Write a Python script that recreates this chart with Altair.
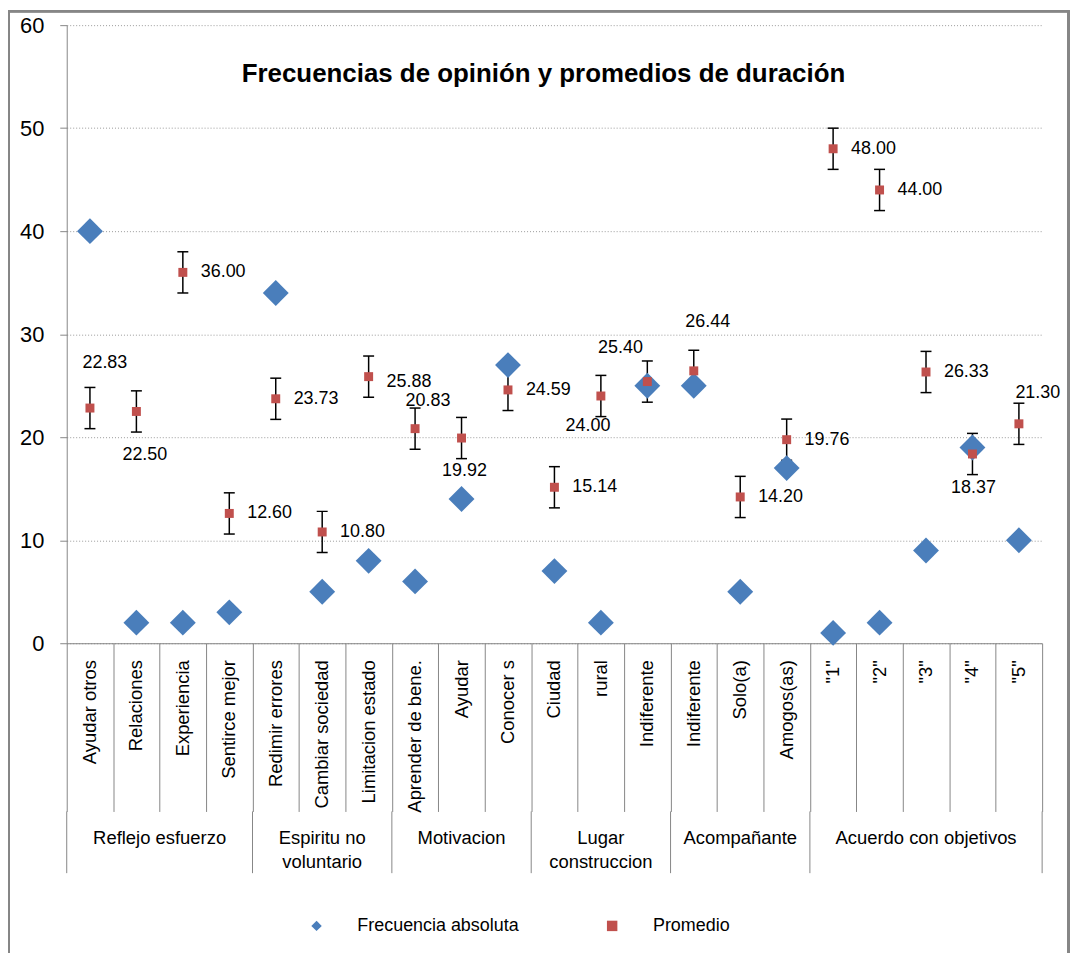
import altair as alt
import pandas as pd

# ---------------- data ----------------
CATEGORIES = ["Ayudar otros", "Relaciones", "Experiencia", "Sentirce mejor",
              "Redimir errores", "Cambiar sociedad", "Limitacion estado",
              "Aprender de bene.", "Ayudar", "Conocer s",
              "Ciudad", "rural", "Indiferente",
              "Indiferente", "Solo(a)", "Amogos(as)",
              '"1"', '"2"', '"3"', '"4"', '"5"']
GROUPS = ["Reflejo esfuerzo", "Espiritu no\nvoluntario", "Motivacion",
          "Lugar\nconstruccion", "Acompañante", "Acuerdo con objetivos"]
GROUP_SIZES = [4, 3, 3, 3, 3, 5]
FRECUENCIA = [40, 2, 2, 3, 34, 5, 8, 6, 14, 27, 7, 2, 25, 25, 5, 17, 1, 2, 9, 19, 10]
PROMEDIO = [22.83, 22.50, 36.00, 12.60, 23.73, 10.80, 25.88, 20.83, 19.92, 24.59,
            15.14, 24.00, 25.40, 26.44, 14.20, 19.76, 48.00, 44.00, 26.33, 18.37, 21.30]
ERROR_MARGIN = 2
SERIES = ["Frecuencia absoluta", "Promedio"]
Y_TICKS = [0, 10, 20, 30, 40, 50, 60]
TITLE = "Frecuencias de opinión y promedios de duración"

# ---------------- style ----------------
BLUE = "#4A7EBB"
RED = "#C0504D"
GRAY = "#868686"
FONT = "Liberation Sans"
W, H = 980, 621
# (align, dx, dy) for each data label of "Promedio"
LABEL_STYLE = [
    ("center", 15, -45), ("center", 8.5, 44), ("left", 18, 0), ("left", 18, 0),
    ("left", 18, 0), ("left", 18, 0), ("left", 18, 5),
    ("center", 13, -28), ("center", 3, 33), ("left", 18, 0),
    ("left", 18, 0), ("center", -13, 30), ("center", -27, -34),
    ("center", 14, -49), ("left", 18, 0), ("left", 18, 0),
    ("left", 18, 0), ("left", 18, 0), ("left", 18, 0), ("center", 1, 34), ("center", 19, -31),
]

n = len(CATEGORIES)
pos = [i + 0.5 for i in range(n)]

df_freq = pd.DataFrame({"pos": pos, "cat": CATEGORIES, "valor": FRECUENCIA,
                        "serie": SERIES[0]})
df_prom = pd.DataFrame({"pos": pos, "cat": CATEGORIES, "valor": PROMEDIO,
                        "serie": SERIES[1], "idx": list(range(n))})
df_prom["lo"] = df_prom["valor"] - ERROR_MARGIN
df_prom["hi"] = df_prom["valor"] + ERROR_MARGIN
df_prom["label"] = [f"{v:.2f}" for v in PROMEDIO]

starts = []
s = 0
for g in GROUP_SIZES:
    starts.append(s)
    s += g
df_groups = pd.DataFrame({"center": [st + g / 2 for st, g in zip(starts, GROUP_SIZES)],
                          "label": GROUPS})
df_bounds = pd.DataFrame({"b": starts + [n]})

# ---------------- scales / axes ----------------
x_scale = alt.Scale(domain=[0, n], nice=False, zero=False)
y_scale = alt.Scale(domain=[0, 60], nice=False)
x_axis = alt.Axis(values=list(range(n + 1)), labels=False, title=None, grid=False,
                  domainColor=GRAY, domainWidth=1, tickColor=GRAY, tickWidth=1,
                  tickSize=169)
y_axis = alt.Axis(values=Y_TICKS, title=None, grid=True, gridColor="#9a9a9a",
                  gridDash=[1, 2], gridWidth=1, domainColor=GRAY, domainWidth=1,
                  tickColor=GRAY, tickSize=7, labelFontSize=22, labelColor="#000",
                  labelPadding=16, labelFont=FONT)


def X(field):
    return alt.X(field, scale=x_scale, axis=x_axis)


def Y(field):
    return alt.Y(field, scale=y_scale, axis=y_axis)


legend = alt.Legend(title=None, orient="none", legendX=242, legendY=896,
                    direction="horizontal", symbolSize=110, labelFontSize=18,
                    labelFont=FONT, labelColor="#000", labelOffset=32, labelLimit=400,
                    columnPadding=84, padding=0, symbolStrokeWidth=0)
color = alt.Color("serie:N", scale=alt.Scale(domain=SERIES, range=[BLUE, RED]), legend=legend)
shape = alt.Shape("serie:N", scale=alt.Scale(domain=SERIES, range=["diamond", "square"]),
                  legend=legend)

# ---------------- layers ----------------
border = alt.Chart(df_bounds).mark_rect(filled=False, stroke=GRAY, strokeWidth=2).encode(
    x=alt.value(-58), x2=alt.value(1006.5), y=alt.value(-14), y2=alt.value(990))

err = alt.Chart(df_prom).mark_rule(color="#000", strokeWidth=1.5).encode(
    x=X("pos:Q"), y=Y("lo:Q"), y2="hi:Q")
cap_hi = alt.Chart(df_prom).mark_tick(orient="horizontal", size=11, thickness=1.5,
                                      color="#000", opacity=1).encode(x=X("pos:Q"), y=Y("hi:Q"))
cap_lo = alt.Chart(df_prom).mark_tick(orient="horizontal", size=11, thickness=1.5,
                                      color="#000", opacity=1).encode(x=X("pos:Q"), y=Y("lo:Q"))

diamonds = alt.Chart(df_freq).mark_point(filled=True, size=676, opacity=1, strokeWidth=0).encode(
    x=X("pos:Q"), y=Y("valor:Q"), color=color, shape=shape)
squares = alt.Chart(df_prom).mark_point(filled=True, size=81, opacity=1, strokeWidth=0).encode(
    x=X("pos:Q"), y=Y("valor:Q"), color=color, shape=shape)

labels = []
for i, (align, dx, dy) in enumerate(LABEL_STYLE):
    labels.append(
        alt.Chart(df_prom).transform_filter(alt.datum.idx == i).mark_text(
            align=align, baseline="middle", dx=dx, dy=dy, fontSize=18, font=FONT,
            color="#000").encode(x=X("pos:Q"), y=Y("valor:Q"), text="label:N"))

cat_labels = alt.Chart(df_freq).mark_text(
    angle=270, align="right", baseline="middle", fontSize=18.5, font=FONT,
    color="#000").encode(x=X("pos:Q"), y=alt.value(638), text="cat:N")

group_labels = alt.Chart(df_groups).mark_text(
    align="center", baseline="alphabetic", lineBreak="\n", lineHeight=24,
    fontSize=18.5, font=FONT, color="#000").encode(
    x=X("center:Q"), y=alt.value(823), text="label:N")

group_rules = alt.Chart(df_bounds).mark_rule(color=GRAY, strokeWidth=1).encode(
    x=X("b:Q"), y=alt.value(790), y2=alt.value(852))

chart = alt.layer(
    border, err, cap_hi, cap_lo, diamonds, squares, *labels,
    cat_labels, group_labels, group_rules
).properties(
    width=W, height=H,
    padding={"left": 59, "top": 15, "right": 28, "bottom": 309},
    autosize=alt.AutoSizeParams(type="none"),
    title=alt.TitleParams(TITLE, fontSize=26, fontWeight="bold", font=FONT,
                          color="#000", anchor="middle", dx=-11, dy=81),
).configure(font=FONT).configure_view(stroke="transparent")

chart.save("out.html", embed_options={"renderer": "svg", "actions": False})
